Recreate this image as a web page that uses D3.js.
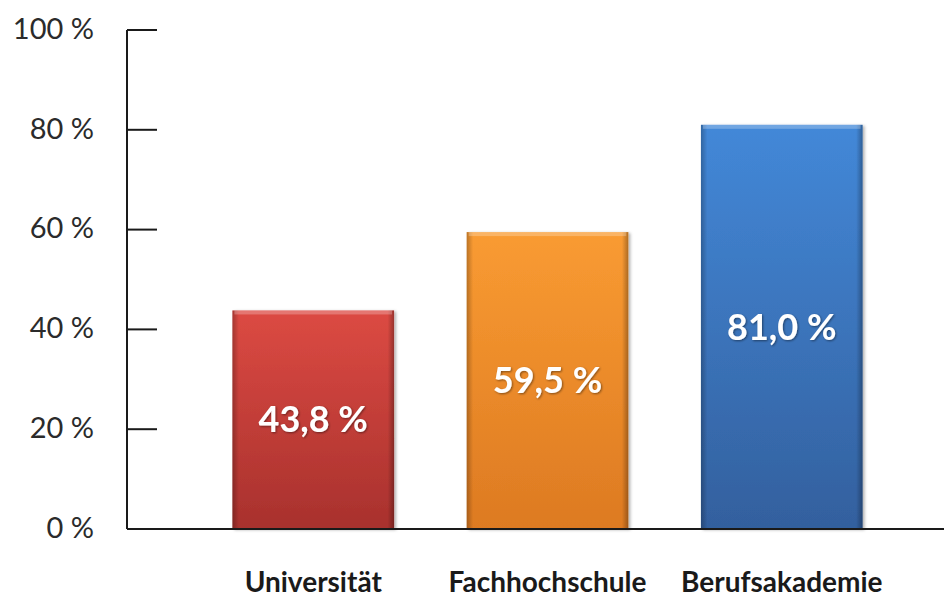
<!DOCTYPE html>
<html lang="de">
<head>
<meta charset="UTF-8">
<title>Anteil nach Hochschulart</title>
<script src="https://cdn.jsdelivr.net/npm/d3@7"></script>
<style>
    body { margin: 0; background: #fff; }
    svg { display: block; font-family: Lato, "Open Sans", sans-serif; }
    .tick-label { font-size: 29px; fill: #2b2b2b; }
    .cat-label { font-size: 28px; font-weight: bold; fill: #1a1a1a; }
    .val-label { font-size: 36px; font-weight: bold; fill: #fff; }
</style>
</head>
<body>
<div id="chart"></div>
<script>
// data
const categories = ["Universität", "Fachhochschule", "Berufsakademie"];
const values = [43.8, 59.5, 81.0];
const valueLabels = ["43,8 %", "59,5 %", "81,0 %"];
const yTicks = [0, 20, 40, 60, 80, 100];
const yTickLabels = ["0 %", "20 %", "40 %", "60 %", "80 %", "100 %"];
const barColors = [
    {top: "#dc4a43", bottom: "#a8312d"},
    {top: "#f99b32", bottom: "#dd7a22"},
    {top: "#4388d8", bottom: "#33609e"}
];

const width = 944, height = 600;
const margin = {top: 30, left: 127, bottom: 71};

const svg = d3.select("#chart").append("svg")
    .attr("width", width)
    .attr("height", height);

const x = d3.scaleBand()
    .domain(categories)
    .range([margin.left, 968])
    .paddingInner(0.31)
    .paddingOuter(0.45);

const y = d3.scaleLinear()
    .domain([0, 100])
    .range([height - margin.bottom, margin.top]);

// gradients
const defs = svg.append("defs");
barColors.forEach((c, i) => {
    const g = defs.append("linearGradient")
        .attr("id", "grad" + i)
        .attr("x1", 0).attr("y1", 0).attr("x2", 0).attr("y2", 1);
    g.append("stop").attr("offset", "0%").attr("stop-color", c.top);
    g.append("stop").attr("offset", "100%").attr("stop-color", c.bottom);
});
const side = defs.append("linearGradient")
    .attr("id", "side")
    .attr("x1", 0).attr("y1", 0).attr("x2", 1).attr("y2", 0);
side.append("stop").attr("offset", "0%").attr("stop-color", "#000").attr("stop-opacity", 0.25);
side.append("stop").attr("offset", "4%").attr("stop-color", "#000").attr("stop-opacity", 0);
side.append("stop").attr("offset", "96%").attr("stop-color", "#000").attr("stop-opacity", 0);
side.append("stop").attr("offset", "100%").attr("stop-color", "#000").attr("stop-opacity", 0.3);

const filter = defs.append("filter").attr("id", "shadow")
    .attr("x", "-10%").attr("y", "-10%").attr("width", "130%").attr("height", "130%");
filter.append("feDropShadow")
    .attr("dx", 2).attr("dy", 1).attr("stdDeviation", 1.5)
    .attr("flood-color", "#000").attr("flood-opacity", 0.3);

const textShadow = defs.append("filter").attr("id", "tshadow");
textShadow.append("feDropShadow")
    .attr("dx", 1).attr("dy", 1).attr("stdDeviation", 0.8)
    .attr("flood-color", "#000").attr("flood-opacity", 0.45);

// bars
const bars = svg.append("g").selectAll("g")
    .data(values)
    .join("g");

bars.append("rect")
    .attr("x", (d, i) => x(categories[i]))
    .attr("y", d => y(d))
    .attr("width", x.bandwidth())
    .attr("height", d => y(0) - y(d))
    .attr("fill", (d, i) => `url(#grad${i})`)
    .attr("filter", "url(#shadow)");

bars.append("rect")
    .attr("x", (d, i) => x(categories[i]))
    .attr("y", d => y(d))
    .attr("width", x.bandwidth())
    .attr("height", d => y(0) - y(d))
    .attr("fill", "url(#side)");

// top highlight
bars.append("rect")
    .attr("x", (d, i) => x(categories[i]) + 2)
    .attr("y", d => y(d))
    .attr("width", x.bandwidth() - 4)
    .attr("height", 4)
    .attr("fill", "#fff")
    .attr("opacity", 0.25);

// value labels
bars.append("text")
    .attr("class", "val-label")
    .attr("x", (d, i) => x(categories[i]) + x.bandwidth() / 2)
    .attr("y", d => (y(d) + y(0)) / 2)
    .attr("dy", "0.35em")
    .attr("text-anchor", "middle")
    .attr("filter", "url(#tshadow)")
    .text((d, i) => valueLabels[i]);

// y axis
const yAxis = svg.append("g").attr("transform", `translate(${margin.left},0)`);
yAxis.append("line")
    .attr("x1", 0).attr("x2", 0)
    .attr("y1", y(100)).attr("y2", y(0))
    .attr("stroke", "#1a1a1a").attr("stroke-width", 2);
yAxis.selectAll(".tick")
    .data(yTicks)
    .join("line")
    .attr("x1", 0).attr("x2", 30)
    .attr("y1", d => y(d)).attr("y2", d => y(d))
    .attr("stroke", "#1a1a1a").attr("stroke-width", 2);
yAxis.selectAll(".tick-label")
    .data(yTicks)
    .join("text")
    .attr("class", "tick-label")
    .attr("x", -33)
    .attr("y", d => y(d))
    .attr("dy", "0.3em")
    .attr("text-anchor", "end")
    .text((d, i) => yTickLabels[i]);

// x axis baseline
svg.append("line")
    .attr("x1", margin.left).attr("x2", width)
    .attr("y1", y(0)).attr("y2", y(0))
    .attr("stroke", "#1a1a1a").attr("stroke-width", 2);

// category labels
svg.append("g").selectAll("text")
    .data(categories)
    .join("text")
    .attr("class", "cat-label")
    .attr("x", d => x(d) + x.bandwidth() / 2)
    .attr("y", 582)
    .attr("dy", "0.35em")
    .attr("text-anchor", "middle")
    .text(d => d);
</script>
</body>
</html>
